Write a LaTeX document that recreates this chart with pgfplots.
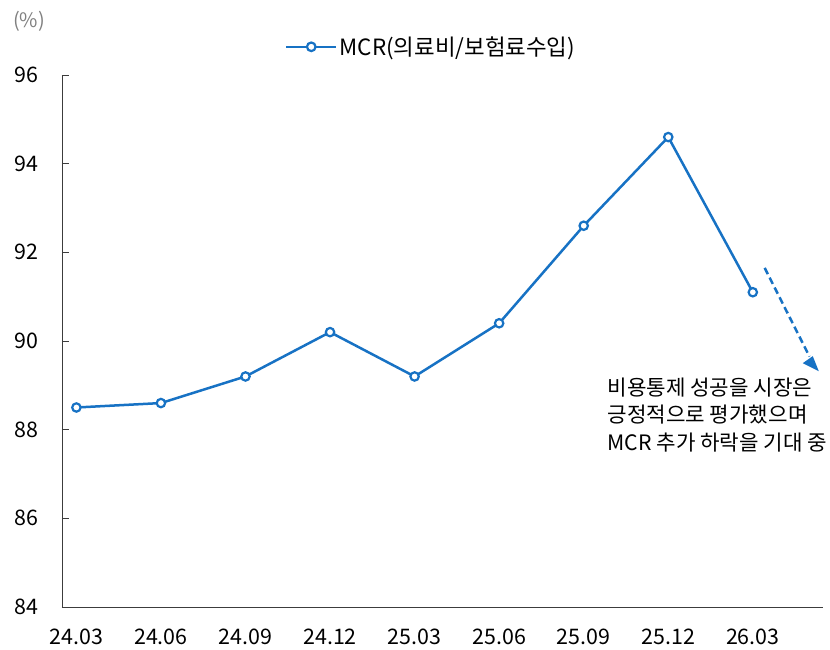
\documentclass[border=0pt]{standalone}
\usepackage{fontspec}
\setmainfont{Noto Sans CJK KR}
\usepackage{pgfplots}
\pgfplotsset{compat=1.18}
\definecolor{mcr}{RGB}{23,114,196}
\definecolor{axisgray}{RGB}{60,60,60}
\begin{document}
\begin{tikzpicture}[font=\fontsize{21.5}{25}\selectfont]
\path[use as bounding box] (-62bp,-43bp) rectangle (768bp,607bp);
\begin{axis}[
  scale only axis, width=761bp, height=532bp,
  xmin=0, xmax=9, ymin=84, ymax=96,
  axis lines*=left,
  axis line style={axisgray, line width=1pt},
  xtick={0.17,1.17,2.17,3.17,4.17,5.17,6.17,7.17,8.17},
  xticklabels={24.03,24.06,24.09,24.12,25.03,25.06,25.09,25.12,26.03},
  major x tick style={draw=none},
  extra x ticks={0,1,2,3,4,5,6,7,8,9},
  extra x tick labels={},
  extra x tick style={tick style={draw=axisgray, line width=0.8pt}, major tick length=7bp},
  ytick={84,86,...,96},
  y tick style={draw=axisgray, line width=0.8pt}, major tick length=7bp,
  tick align=inside,
  xticklabel style={yshift=-18bp},
  yticklabel style={xshift=-20bp},
  /pgf/number format/assume math mode=true,
  tick label style={font=\fontsize{21.5}{25}\selectfont, text=black},
  clip=false,
  legend style={at={(0.485,1.053)}, anchor=center, draw=none, fill=none,
    font=\fontsize{22.5}{26}\selectfont, legend cell align=left},
  legend image code/.code={
    \draw[mcr, line width=2.5bp] (0bp,0bp) -- (50bp,0bp);
    \draw[mcr, line width=2.2bp, fill=white] (25bp,0bp) circle (4.3bp);
  },
]
\addplot[mcr, line width=2.5bp, mark=*, mark size=4.2bp,
  mark options={fill=white, draw=mcr, line width=2.2bp}]
  coordinates {(0.17,88.5) (1.17,88.6) (2.17,89.2) (3.17,90.2) (4.17,89.2)
               (5.17,90.4) (6.17,92.6) (7.17,94.6) (8.17,91.1)};
\addlegendentry{MCR(의료비/보험료수입)}
\draw[mcr, line width=2.5bp, dash pattern=on 7bp off 4bp]
  (axis cs:8.31,91.65) -- (axis cs:8.84,89.65);
\fill[mcr] (axis cs:8.95,89.32) -- ++(-16bp,8bp) -- ++(10bp,7bp) -- cycle;
\node[anchor=north west, align=left, inner sep=0pt, font=\fontsize{21.3}{28}\selectfont]
  at (axis cs:6.45,89.18) {비용통제 성공을 시장은\\긍정적으로 평가했으며\\MCR 추가 하락을 기대 중};
\end{axis}
\node[anchor=north west, text=gray, inner sep=0pt, font=\fontsize{20}{22}\selectfont] at (-49bp,596bp) {(\%)};
\end{tikzpicture}
\end{document}
